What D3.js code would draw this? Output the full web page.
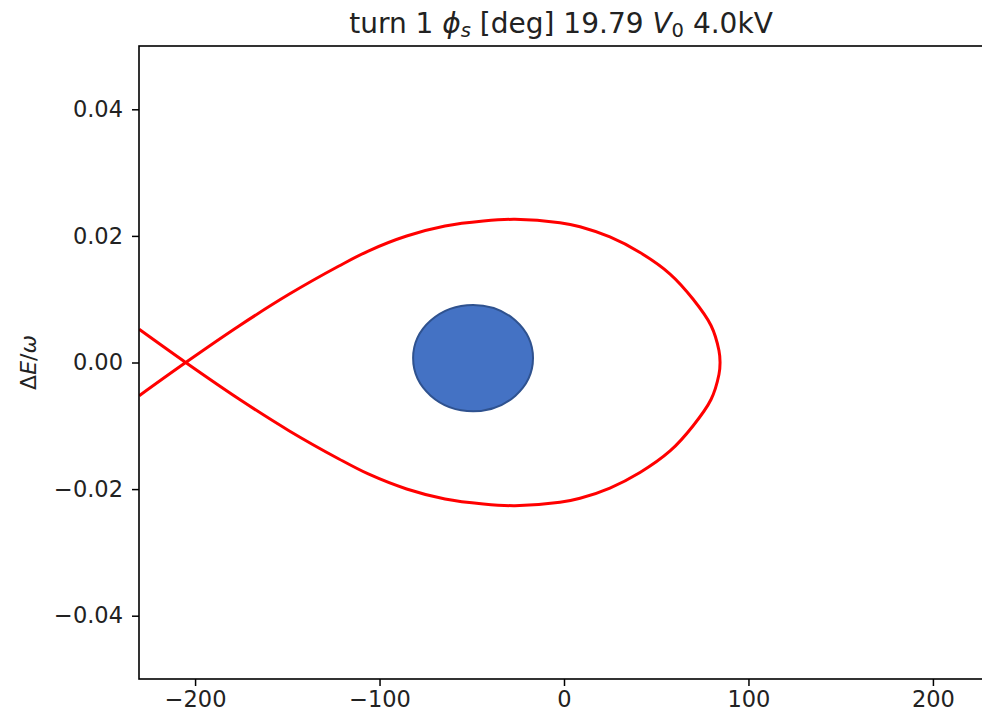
<!DOCTYPE html>
<html>
<head>
<meta charset="utf-8">
<script src="https://cdn.jsdelivr.net/npm/d3@7"></script>
<style>
  body { margin: 0; background: #fff; }
  text { font-family: "DejaVu Sans", sans-serif; }
</style>
</head>
<body>
<svg id="chart" width="982" height="720"></svg>
<script>
// separatrix: left edge, the X point, lower branch,
// right tip, upper branch, back through the X point to the left edge
var sepX = [-230.3, -205.1, -176.2, -149.1, -122.0, -106.1, -85.3, -64.5, -43.7, -26.6, -2.2, 8.7, 24.9, 41.2, 57.5, 69.9, 79.7, 84.0, 84.6,
            84.0, 79.7, 69.9, 57.5, 41.2, 24.9, 8.7, -2.2, -26.6, -43.7, -64.5, -85.3, -106.1, -122.0, -149.1, -176.2, -205.1, -230.3];
var sepY = [0.00524, 0.0, -0.00577, -0.01077, -0.01524, -0.01761, -0.01998, -0.02156, -0.02235, -0.02262, -0.02209, -0.02145, -0.01983, -0.01738, -0.01398, -0.01003, -0.00585, -0.00190, 0.0,
            0.00190, 0.00585, 0.01003, 0.01398, 0.01738, 0.01983, 0.02145, 0.02209, 0.02262, 0.02235, 0.02156, 0.01998, 0.01761, 0.01524, 0.01077, 0.00577, 0.0, -0.00524];

// the blue blob (centre and half widths in data units)
var blobCentre = [-49.3, 0.0007];
var blobRadius = [32.5, 0.0084];

var xTicks = [-200, -100, 0, 100, 200];
var yTicks = [-0.04, -0.02, 0.00, 0.02, 0.04];
var xDomain = [-230.4, 230.4];
var yDomain = [-0.05, 0.05];

var svg = d3.select("#chart");
var mLeft = 139, mTop = 46, mRight = 989, mBottom = 679;

var x = d3.scaleLinear().domain(xDomain).range([mLeft, mRight]);
var y = d3.scaleLinear().domain(yDomain).range([mBottom, mTop]);

svg.append("clipPath").attr("id", "plotclip")
	.append("rect").attr("x", mLeft).attr("y", mTop)
	.attr("width", mRight - mLeft).attr("height", mBottom - mTop);

var plot = svg.append("g").attr("clip-path", "url(#plotclip)");

// separatrix
var pts = sepX.map(function (d, i) { return [d, sepY[i]]; });
var line = d3.line()
	.x(function (d) { return x(d[0]); })
	.y(function (d) { return y(d[1]); })
	.curve(d3.curveCatmullRom.alpha(0.5));
plot.append("path")
	.datum(pts)
	.attr("d", line)
	.attr("fill", "none")
	.attr("stroke", "#ff0000")
	.attr("stroke-width", 3);

// blob
plot.append("ellipse")
	.attr("cx", x(blobCentre[0]))
	.attr("cy", y(blobCentre[1]))
	.attr("rx", x(blobCentre[0] + blobRadius[0]) - x(blobCentre[0]))
	.attr("ry", y(blobCentre[1]) - y(blobCentre[1] + blobRadius[1]))
	.attr("fill", "#4472c4")
	.attr("stroke", "#2f528f")
	.attr("stroke-width", 2);

// axes
var xAxis = svg.append("g")
	.attr("transform", "translate(0," + mBottom + ")")
	.call(d3.axisBottom(x).tickValues(xTicks).tickSize(7).tickPadding(5).tickFormat(d3.format("d")));
var yAxis = svg.append("g")
	.attr("transform", "translate(" + mLeft + ",0)")
	.call(d3.axisLeft(y).tickValues(yTicks).tickSize(7).tickPadding(9).tickFormat(d3.format(".2f")));

[xAxis, yAxis].forEach(function (a) {
	a.select(".domain").remove();
	a.selectAll(".tick line").attr("stroke", "#000").attr("stroke-width", 1.5);
	a.selectAll(".tick text")
		.attr("fill", "#222")
		.style("font-family", "DejaVu Sans")
		.style("font-size", "22.5px");
});

// frame
svg.append("rect")
	.attr("x", mLeft).attr("y", mTop)
	.attr("width", mRight - mLeft).attr("height", mBottom - mTop)
	.attr("fill", "none").attr("stroke", "#000").attr("stroke-width", 1.6);

// title
var title = svg.append("text")
	.attr("x", 561).attr("y", 33)
	.attr("text-anchor", "middle")
	.style("font-size", "28px")
	.attr("fill", "#222");
title.append("tspan").text("turn 1 ");
title.append("tspan").style("font-style", "italic").text("ϕ");
title.append("tspan").style("font-style", "italic").style("font-size", "19.5px").attr("dy", 4).text("s");
title.append("tspan").attr("dy", -4).text(" [deg] 19.79 ");
title.append("tspan").style("font-style", "italic").text("V");
title.append("tspan").style("font-size", "19.5px").attr("dy", 4).text("0");
title.append("tspan").attr("dy", -4).text(" 4.0kV");

// y label
var ylab = svg.append("text")
	.attr("transform", "translate(36," + ((mTop + mBottom) / 2) + ") rotate(-90)")
	.attr("text-anchor", "middle")
	.style("font-size", "22px")
	.attr("fill", "#222");
ylab.append("tspan").text("Δ");
ylab.append("tspan").style("font-style", "italic").text("E");
ylab.append("tspan").text("/");
ylab.append("tspan").style("font-style", "italic").text("ω");
</script>
</body>
</html>
